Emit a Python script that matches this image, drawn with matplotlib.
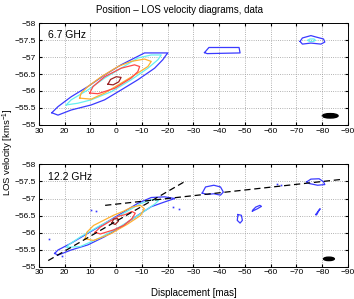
import matplotlib
matplotlib.use('Agg')
import matplotlib.pyplot as plt
from matplotlib.patches import Ellipse
import numpy as np

plt.rcParams['font.family'] = ['Liberation Sans', 'DejaVu Sans']
plt.rcParams['mathtext.fontset'] = 'custom'
plt.rcParams['mathtext.rm'] = 'Liberation Sans'

# contour outlines: (displacement [mas], velocity [km/s])
# --- 6.7 GHz ---
top_blue = [(25.0, -55.36), (22.6, -55.29), (17.5, -55.44), (9.7, -55.59), (4.5, -55.74),
            (-1.9, -56.03), (-8.4, -56.33), (-14.9, -56.67), (-18.1, -56.92), (-19.4, -57.06),
            (-20.1, -57.12), (-11.0, -57.12), (-1.9, -56.77), (4.5, -56.47), (11.0, -56.13),
            (17.5, -55.83), (22.6, -55.54)]
top_cyan = [(19.4, -55.59), (14.9, -55.64), (9.7, -55.74), (1.9, -55.98), (-5.8, -56.33),
            (-12.3, -56.67), (-16.2, -56.92), (-17.5, -57.06), (-13.6, -57.06), (-8.4, -56.97),
            (-1.9, -56.67), (4.5, -56.38), (11.0, -56.03), (17.5, -55.74)]
top_orange = [(14.2, -55.79), (9.7, -55.76), (4.5, -55.94), (-1.9, -56.23), (-8.4, -56.53),
              (-12.3, -56.72), (-13.6, -56.87), (-11.0, -56.94), (-5.8, -56.87), (-0.7, -56.72),
              (5.8, -56.42), (11.0, -56.13), (13.6, -55.94)]
top_red = [(10.3, -55.94), (7.1, -55.92), (0.6, -56.08), (-5.8, -56.38), (-8.4, -56.57),
           (-9.1, -56.72), (-7.1, -56.77), (-1.9, -56.67), (4.5, -56.42), (9.0, -56.13)]
top_darkred = [(3.2, -56.20), (1.2, -56.18), (-1.0, -56.27), (-1.9, -56.40), (0.0, -56.42),
               (2.2, -56.34)]
top_island1 = [(-34.3, -57.13), (-36.0, -57.28), (-47.7, -57.28), (-48.1, -57.12), (-35.3, -57.10)]
top_island2 = [(-71.4, -57.46), (-72.3, -57.56), (-75.6, -57.63), (-77.5, -57.59), (-80.5, -57.53),
               (-81.0, -57.44), (-79.5, -57.38), (-75.6, -57.41), (-72.3, -57.38)]
top_island2_cyan = [(-74.4, -57.49), (-75.2, -57.53), (-76.8, -57.53), (-77.4, -57.49),
                    (-76.6, -57.46), (-75.0, -57.46)]

# --- 12.2 GHz ---
bot_blue = [(23.9, -55.39), (22.6, -55.34), (17.5, -55.49), (11.0, -55.64), (4.5, -55.88),
            (-1.9, -56.17), (-8.4, -56.51), (-13.6, -56.76), (-18.8, -56.90), (-22.7, -57.00),
            (-18.8, -57.05), (-13.6, -57.03), (-8.4, -56.86), (-1.9, -56.56), (4.5, -56.27),
            (11.0, -55.98), (17.5, -55.69), (22.6, -55.49)]
bot_cyan = [(19.2, -55.57), (14.0, -55.59), (6.2, -55.85), (-1.6, -56.18), (-9.4, -56.55),
            (-15.2, -56.85), (-16.5, -56.95), (-13.9, -56.97), (-9.4, -56.85), (-1.6, -56.51),
            (6.2, -56.21), (14.0, -55.87), (18.5, -55.64)]
bot_orange = [(12.1, -55.82), (8.8, -55.77), (2.3, -55.96), (-4.2, -56.24), (-9.4, -56.50),
              (-10.9, -56.70), (-9.4, -56.80), (-6.1, -56.75), (-2.9, -56.63), (1.0, -56.51),
              (4.9, -56.36), (8.8, -56.21), (11.4, -56.01)]
bot_red = [(8.2, -56.01), (6.2, -55.96), (1.0, -56.08), (-2.9, -56.21), (-6.1, -56.41),
           (-7.4, -56.57), (-6.1, -56.62), (-3.5, -56.53), (-0.9, -56.48), (2.3, -56.34),
           (6.2, -56.16)]
bot_darkred = [(1.7, -56.28), (0.4, -56.24), (-0.9, -56.34), (-0.6, -56.41), (1.0, -56.40)]
bot_island1 = [(-33.4, -57.16), (-34.7, -57.34), (-37.9, -57.39), (-40.5, -57.34), (-41.6, -57.19),
               (-40.5, -57.10), (-37.9, -57.14), (-35.3, -57.12)]
bot_island2 = [(-74.0, -57.49), (-75.6, -57.57), (-78.8, -57.58), (-80.5, -57.49), (-81.0, -57.41),
               (-78.2, -57.39), (-75.0, -57.44)]
bot_island3 = [(-47.3, -56.53), (-48.6, -56.51), (-49.0, -56.36), (-48.1, -56.28), (-47.0, -56.36)]
bot_island4 = [(-52.9, -56.63), (-54.8, -56.70), (-56.4, -56.77), (-55.8, -56.80), (-54.2, -56.75),
               (-53.0, -56.66)]
bot_island5 = [(-77.5, -56.53), (-78.8, -56.67), (-79.2, -56.70), (-78.5, -56.62), (-77.8, -56.52)]
bot_dots_x = [9.9, 8.0, 26.0, -24.3, -62.6, -63.9, -22.0, 21.0]
bot_dots_y = [-56.65, -56.63, -55.82, -56.70, -57.42, -57.40, -56.75, -55.30]

# fitted dashed lines (endpoints)
fit1_x = [26.4, -26.9]
fit1_y = [-55.18, -57.51]
fit2_x = [4.3, -87.3]
fit2_y = [-56.80, -57.56]

# beam
beam_top = (-83.1, -55.27, 6.1, 0.13)
beam_bot = (-82.6, -55.23, 4.2, 0.10)

BLUE = '#3a3aff'
CYAN = '#66f0f0'
ORANGE = '#ffb030'
RED = '#ff4848'
DARKRED = '#9a2222'

top_set = [(top_blue, BLUE), (top_cyan, CYAN), (top_orange, ORANGE), (top_red, RED),
           (top_darkred, DARKRED), (top_island1, BLUE), (top_island2, BLUE),
           (top_island2_cyan, CYAN)]
bot_set = [(bot_blue, BLUE), (bot_cyan, CYAN), (bot_orange, ORANGE), (bot_red, RED),
           (bot_darkred, DARKRED), (bot_island1, BLUE), (bot_island2, BLUE),
           (bot_island3, BLUE), (bot_island4, BLUE), (bot_island5, BLUE)]


def draw_contours(ax, contours):
    for pts, col in contours:
        arr = np.array(pts + [pts[0]])
        ax.plot(arr[:, 0], arr[:, 1], color=col, lw=0.9, solid_joinstyle='round')


def style_axes(ax, label, beam):
    ax.set_xlim(30, -90)
    ax.set_ylim(-55, -58)
    ax.set_xticks(np.arange(30, -91, -10))
    ax.set_yticks(np.arange(-58, -54.9, 0.5))
    ax.set_yticklabels(['−58', '−57.5', '−57', '−56.5', '−56', '−55.5', '−55'])
    ax.grid(True, ls=':', color='#999999', lw=0.6)
    ax.tick_params(direction='in', length=2, labelsize=6, top=True, right=True, pad=2)
    for s in ax.spines.values():
        s.set_linewidth(0.7)
    ax.text(0.03, 0.85, label, transform=ax.transAxes, fontsize=7.5)
    ax.add_patch(Ellipse((beam[0], beam[1]), beam[2], beam[3], color='black'))


fig = plt.figure(figsize=(3.54, 2.99), dpi=100)
ax1 = fig.add_axes([0.110, 0.582, 0.873, 0.341])
ax2 = fig.add_axes([0.110, 0.108, 0.873, 0.342])

draw_contours(ax1, top_set)
style_axes(ax1, '6.7 GHz', beam_top)

draw_contours(ax2, bot_set)
ax2.plot(bot_dots_x, bot_dots_y, 's', color=BLUE, ms=1.2, mew=0)
ax2.plot(fit1_x, fit1_y, color='black', ls=(0, (5, 3)), lw=0.9)
ax2.plot(fit2_x, fit2_y, color='black', ls=(0, (5, 3)), lw=0.9)
style_axes(ax2, '12.2 GHz', beam_bot)

fig.text(180 / 354, 1 - 10 / 299, 'Position – LOS velocity diagrams, data',
         ha='center', va='center', fontsize=7)
fig.text(0.547, 1 - 293 / 299, 'Displacement [mas]', ha='center', va='center', fontsize=7)
fig.text(8 / 354, 1 - 152 / 299, 'LOS velocity [kms$^{-1}$]', ha='center', va='center',
         rotation=90, fontsize=6.8)

fig.savefig('out.png', dpi=100)
